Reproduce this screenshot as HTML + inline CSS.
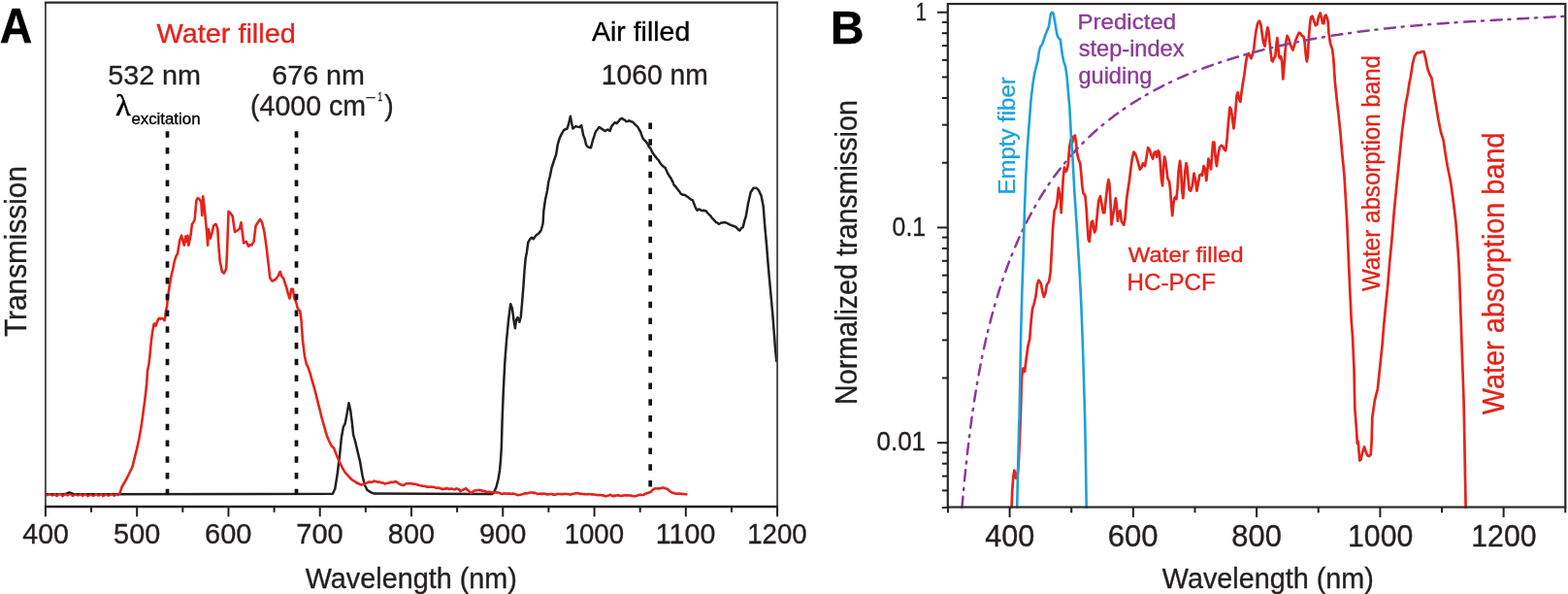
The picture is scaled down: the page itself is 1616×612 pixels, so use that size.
<!DOCTYPE html>
<html><head><meta charset="utf-8"><title>Transmission spectra</title>
<style>html,body{margin:0;padding:0;background:#fff;overflow:hidden;width:1616px;height:612px;}svg{display:block;}text{font-family:"Liberation Sans", Arial, Helvetica, sans-serif;}</style>
</head><body>
<svg width="1616" height="612" viewBox="0 0 1616 612">
<rect width="1616" height="612" fill="#fff"/>
<polyline points="47.5,509.2 66,509.2 69,508.4 71.3,507.3 73.5,508.2 76,509.2 342.9,508.8 345.3,503.5 347.8,487.6 350.2,468 351.9,450.8 353.9,439.8 355.8,436.1 357.6,426.3 359.5,415.3 361.2,422.7 362.9,436.1 364.2,448.4 366.1,454.5 368.6,465.5 371,475.3 373.5,490 375.9,499.8 378.4,504.7 382,507.2 385.7,508.6 507,509.1 509,507.6 511.5,501.7 513.5,493.8 515,484.9 515.9,475 516.8,461.8 517.6,432.4 518.8,402.9 520.3,373.5 522.1,350 524.1,329.4 526.2,313.2 527.9,317.6 529.4,329.4 530.9,338.2 532.1,329.4 533.5,327.1 535.3,331.8 536.8,326.5 538.1,311.6 539.4,295.3 540.5,279 541.7,265.9 543,259.4 544.3,249.6 546.2,246.3 547.9,244.7 549.8,246.3 551.9,243.1 555.2,240.6 557.7,237.3 559.6,230 560.3,217.2 562,205.8 564.1,195.9 565.2,187.8 566.9,181.2 568.5,173.1 570.6,166.5 573.2,159 574.7,149.2 576.7,142.4 578.6,138.4 581.1,134 584.5,132.5 586,128 587.9,119.8 589,126 590.4,132.5 593.3,130.1 597.3,131.1 599.2,129.1 601.2,139.4 602.65,143.02 604.1,149.2 605.33,150.87 606.55,151.53 607.77,152.11 609,152.2 610,148.26 611,144.3 612.45,140.15 613.9,135.5 615.07,134.26 616.23,132.64 617.4,131.1 618.53,131.47 619.67,132.47 620.8,133 622.25,134.2 623.7,135 624.7,134.32 625.7,133.82 626.7,133.5 628.6,135 629.6,132.08 630.6,129.6 632.05,128.07 633.5,126.2 634.5,126.71 635.5,127.2 636.95,125.66 638.4,123.7 639.65,122.49 640.9,121.8 642,122.68 643.1,123.29 644.2,123.9 645.3,125.2 646.75,125.07 648.2,124.2 649.2,124.73 650.2,125.07 651.2,125.48 652.2,125.7 653.5,127.2 654.8,128.53 656.1,129.6 657.4,131.01 658.7,133.47 660,135.5 661.3,139.21 662.6,142.5 663.9,144.3 665.12,145.18 666.35,146.83 667.57,148.53 668.8,151.2 670.02,152.3 671.25,154.69 672.48,157.25 673.7,159 674.93,160.65 676.15,162.13 677.38,163.85 678.6,164.9 679.9,167.23 681.2,168.99 682.5,170.5 683.57,171.42 684.63,172.23 685.7,172.9 686.95,175.87 688.2,178.7 689.3,180.39 690.4,182.27 691.5,183.6 692.57,185.93 693.63,187.92 694.7,190.9 695.95,191.85 697.2,193.4 698.27,194.8 699.33,196.38 700.4,197.5 701.5,199.52 702.6,200.08 703.7,200.7 704.73,200.67 705.75,201.03 706.77,201.38 707.8,202.4 708.9,202.84 710,203.88 711.1,204.8 712.4,205.78 713.7,205.9 714.95,209.14 716.2,212.4 717.45,215.11 718.7,216.7 720.15,215.54 721.6,216 722.8,216.85 724,217.06 725.2,216.7 726.4,217.24 727.6,217.32 728.8,218.8 730,220.02 731.2,221.51 732.4,222.4 733.6,224.34 734.8,225.52 736,226.8 737.2,228.13 738.4,229.33 739.6,229.6 740.8,230.82 742,230.28 743.2,229.6 744.4,229.51 745.6,229.27 746.8,229.3 748,229.28 749.2,229.85 750.4,230.4 751.6,231.25 752.8,231.63 754,232.2 755.15,232.55 756.3,233 757.45,233.47 758.6,234 759.8,235.3 761,236.69 762.2,237.6 763.4,236.03 764.6,234.55 765.8,234 767.25,227.63 768.7,223.2 771.2,208.8 773.7,198 776.6,193.7 779.5,193.7 782,196.2 784.5,201.6 786.7,212.4 788,230 790.1,252.9 791.9,275.8 794,298.6 796.1,321.5 797.9,344.4 799.3,362.7 800.3,372" fill="none" stroke="#231f20" stroke-width="2.5" stroke-linejoin="round" stroke-linecap="round" />
<polyline points="47.5,510.1 48.8,510.4 50.1,509.4 51.4,509.1 52.7,510 54,510.7 55.3,510.1 56.6,508.8 57.9,511 59.2,510.9 60.5,508.9 61.8,509.1 63.1,509.5 64.4,511.4 65.7,510.4 67,509 68.3,509.8 69.6,510.7 70.9,509.8 72.2,509.2 73.5,509.8 74.8,511.2 76.1,510.5 77.4,509.5 78.7,510 80,510.6 81.3,510.6 82.6,509.3 83.9,509.6 85.2,511.2 86.5,509.8 87.8,509.2 89.1,509.8 90.4,511.5 91.7,510.7 93,509.7 94.3,510.3 95.6,510.9 96.9,510.9 98.2,509.6 99.5,508.9 100.8,510.8 102.1,510.7 103.4,509.8 104.7,509.1 106,511.3 107.3,510.8 108.6,509.5 109.9,509.6 111.2,510.7 112.5,510.8 113.8,509.8 115.1,509.1 116.4,510 117.7,511.1 119,509.4 120.3,509.4 121.6,510.3 123.3,508.6" fill="none" stroke="#e3241b" stroke-width="2.0" stroke-linejoin="round" stroke-linecap="round" />
<polyline points="123.3,508.6 125.7,501.5 129.2,495.6 132.8,488.5 136.3,481.4 138.7,471.9 141.1,462.4 143.4,451.8 145.3,441.1 147,429.2 148.6,417.4 150.1,405.5 151.2,394.9 152,382.2 153.5,374.4 154.6,365.1 155.9,351.2 157.1,341.9 158.6,334.1 159.7,333.3 160.5,335.7 161.7,332.6 162.8,329.5 163.9,327.9 165.2,328.7 166.7,327.9 168.3,328.7 169.5,330.2 170.3,326.4 171,320.2 172.1,315.5 172.7,309 174.5,295.8 176.3,285 178.1,277.8 179.9,268.8 181.7,263.4 183,261.6 184.4,252.6 185.3,247.2 187.1,242.7 188.4,248.1 189.8,252.6 191.2,243.6 192.5,249 193.4,242.7 194.3,252.6 195.2,249 196.6,241.8 197.9,231 199.2,229.2 200.6,226.5 201.5,216.6 202.4,206.7 203.8,204 206,205.8 207.4,208.5 208.2,222 209.2,202.2 210.5,213 211.8,225.6 213.2,240 214.1,252.6 215,236.4 216.8,245.6 218.4,240.7 220.1,232.5 222.4,230.8 224.3,235.8 225.5,255.4 226.6,268.4 228.9,279.9 230.9,281.5 233.2,276.6 234.2,255.4 235.5,217.8 237.4,219.4 239.7,222.7 242,239 244.6,237.4 246.9,235.8 248.5,229.2 249.8,239 251.1,250.5 253.8,248.8 256,253.7 257.7,252.1 259.3,252.7 261.6,248.8 263.6,232.5 265.8,229.2 268.1,225.9 270.1,229.2 272.4,239 274.7,255.4 276.6,271.7 278.3,286.4 280.6,289.7 283.8,288 286.4,284.8 288.7,279.9 290.4,284.8 292,286.4 293.6,291.3 295.3,296.2 296.9,302.7 298.5,307.6 300.2,297.8 301.8,297.8 303.4,307.6 305.1,310.9 306.7,317.5 309.3,320.7 310.6,330.5 311.9,350.1 313.9,366.5 315.8,375.3 317.1,377.3 319.6,384.7 322,393.3 324.5,401.8 326.9,411.6 329.4,421.4 331.8,431.2 334.3,439.8 336.7,448.4 339.2,454.5 341.6,459.4 344.1,461.8 346.5,468 349,474.1 351.4,479 353.9,483.9 356.3,487.6 357.53,488.85 358.77,490.21 360,491.2 361.23,492.98 362.47,494.02 363.7,494.9 364.93,495.67 366.17,496.35 367.4,497.4 368.6,497.6 369.8,498.32 371,499.1 372.23,499.38 373.47,499.43 374.7,498.6 375.93,498.62 377.17,497.89 378.4,497.4 379.6,496.62 380.8,496.51 382,496.9 383.23,496.43 384.47,496.54 385.7,495.4 386.93,496.13 388.17,496.22 389.4,496.9 390.63,496.4 391.87,496.96 393.1,497.4 394.3,497.41 395.5,497.65 396.7,498.6 397.93,498.02 399.17,497.79 400.4,497.8 401.63,497.2 402.87,496.85 404.1,496.9 405.33,496.85 406.57,496.53 407.8,496.1 409,496.82 410.2,497.53 411.4,498.6 412.63,499.06 413.87,499.64 415.1,499.8 416.23,499.84 417.37,499.03 418.5,498.23 419.63,498.19 420.77,498.22 421.9,498.2 423.03,498 424.16,498.14 425.29,498.5 426.41,498.85 427.54,498.8 428.67,498.74 429.8,499.5 430.9,499.58 432,499.99 433.1,500.23 434.2,500.46 435.3,500.65 436.4,500.83 437.5,500.96 438.6,501.05 439.7,501.7 440.8,501.46 441.9,501.71 443,501.7 444.1,501.67 445.2,501.68 446.3,501.73 447.4,501.86 448.5,502.31 449.6,502.7 450.7,502.69 451.8,502.52 452.9,502.7 454,503.29 455.1,503.83 456.2,503.85 457.3,503.86 458.4,503.53 459.5,503.7 460.6,502.93 461.7,503.47 462.8,504 463.9,503.77 465,503.53 466.1,503.64 467.2,503.93 468.3,504.16 469.4,504.2 470.4,503.2 471.4,503.63 472.4,503.97 473.4,504.45 474.4,506.1 475.58,505.33 476.76,504.82 477.94,504.23 479.12,503.82 480.3,503.2 481.52,504.69 482.75,505.41 483.98,506.42 485.2,508.1 486.2,507.84 487.2,506.87 488.2,505.89 489.2,505.6 490.35,505.2 491.5,505.26 492.65,505.06 493.8,504.87 494.95,505.18 496.1,505.1 497.18,505.89 498.25,505.88 499.33,505.93 500.4,506.48 501.48,507.03 502.55,507.06 503.62,506.85 504.7,506.77 505.77,506.97 506.85,507.18 507.93,507.36 509,507.1 510.1,507.55 511.2,507.41 512.3,507.31 513.4,507.59 514.5,507.87 515.6,508.28 516.7,508.75 517.8,508.97 518.9,508.6 520,508.4 521.1,508.53 522.2,508.65 523.3,508.67 524.4,508.62 525.5,508.63 526.6,508.76 527.7,508.89 528.8,508.6 529.8,508.83 530.8,509.03 531.8,509.37 532.8,509.72 533.8,510.1 534.9,509.95 536,509.77 537.1,509.51 538.2,509.26 539.3,508.84 540.4,508.41 541.5,508.35 542.6,508.5 543.7,508.1 544.85,507.94 546,507.45 547.15,507.47 548.3,507.49 549.45,507.49 550.6,508.1 551.73,507.83 552.86,508.46 553.99,508.96 555.11,508.82 556.24,508.67 557.37,508.66 558.5,509.1 559.55,508.64 560.59,508.65 561.64,508.68 562.68,509.04 563.73,509.4 564.77,509.42 565.82,509.17 566.86,508.93 567.91,508.94 568.95,508.94 570,509.6 571,509.49 572,509.81 573,509.41 574,509.01 575,508.82 576,508.94 577,509.06 578,509.09 579,509.1 580,509.1 581,508.99 582,508.9 583,508.91 584,508.98 585,509.05 586,509.31 587,509.57 588,509.59 589,509.22 590,508.86 591,508.67 592,508.52 593,508.38 594,508.27 595,508.15 596,508.29 597,508.6 598,508.91 599,508.87 600,509 601,508.94 602,509.12 603,509.3 604,509.28 605,509.21 606,509.16 607,509.22 608,509.28 609,509.32 610,509.34 611,509.35 612,509.46 613,509.56 614,509.7 615,509.9 616,510.09 617,510.1 618,510.06 619,510.06 620,510.3 621.01,510.34 622.02,510.61 623.02,510.98 624.03,511.33 625.04,511.08 626.05,510.83 627.05,510.52 628.06,510.15 629.07,509.77 630.08,510.3 631.08,510.97 632.09,511.37 633.1,510.6 634.1,510.85 635.1,510.6 636.1,510.35 637.1,510.16 638.1,510.52 639.1,510.88 640.1,510.97 641.1,510.8 642.1,510.63 643.1,510.5 644.1,510.38 645.1,510.29 646.1,510.6 647.2,510.38 648.3,510.42 649.4,510.44 650.5,510.6 651.6,510.92 652.7,511.2 653.78,511.24 654.87,511.24 655.95,510.88 657.03,510.38 658.12,510 659.2,509.9 660.3,509.88 661.4,509.96 662.5,510.05 663.6,509.61 664.7,508.74 665.8,508.6 666.84,507.96 667.88,507.88 668.92,507.51 669.96,507.02 671,506.7 672.3,505.03 673.6,504.1 674.64,503.44 675.68,503.31 676.72,503.31 677.76,503.37 678.8,503.4 680.1,503.22 681.4,502.98 682.7,502.5 683.76,502.5 684.82,502.87 685.88,503.25 686.94,503.64 688,503.8 689.07,505.12 690.13,506 691.2,506.7 692.3,507.36 693.4,507.91 694.5,508 695.54,508.45 696.58,508.49 697.62,508.59 698.66,508.72 699.7,508.6 707.3,509.3" fill="none" stroke="#e3241b" stroke-width="2.6" stroke-linejoin="round" stroke-linecap="round" />
<line x1="172.5" y1="135.2" x2="172.5" y2="510" stroke="#141213" stroke-width="3.7" stroke-dasharray="6.6 10.15"/>
<line x1="305.5" y1="135.2" x2="305.5" y2="510" stroke="#141213" stroke-width="3.7" stroke-dasharray="6.6 10.15"/>
<line x1="670.2" y1="126.4" x2="670.2" y2="501.5" stroke="#141213" stroke-width="3.7" stroke-dasharray="6.6 10.15"/>
<line x1="46.9" y1="2.6" x2="46.9" y2="522" stroke="#4a4545" stroke-width="1.9" />
<line x1="801.1" y1="2.6" x2="801.1" y2="522" stroke="#4a4545" stroke-width="1.9" />
<line x1="45.95" y1="2.6" x2="802.05" y2="2.6" stroke="#2e2a29" stroke-width="2.2" />
<line x1="45.95" y1="522" x2="802.05" y2="522" stroke="#242021" stroke-width="2.3" />
<line x1="46.9" y1="522" x2="46.9" y2="532.3" stroke="#231f20" stroke-width="2.0" />
<line x1="94.04" y1="522" x2="94.04" y2="527.8" stroke="#231f20" stroke-width="2.0" />
<line x1="141.17" y1="522" x2="141.17" y2="532.3" stroke="#231f20" stroke-width="2.0" />
<line x1="188.31" y1="522" x2="188.31" y2="527.8" stroke="#231f20" stroke-width="2.0" />
<line x1="235.45" y1="522" x2="235.45" y2="532.3" stroke="#231f20" stroke-width="2.0" />
<line x1="282.59" y1="522" x2="282.59" y2="527.8" stroke="#231f20" stroke-width="2.0" />
<line x1="329.72" y1="522" x2="329.72" y2="532.3" stroke="#231f20" stroke-width="2.0" />
<line x1="376.86" y1="522" x2="376.86" y2="527.8" stroke="#231f20" stroke-width="2.0" />
<line x1="424" y1="522" x2="424" y2="532.3" stroke="#231f20" stroke-width="2.0" />
<line x1="471.14" y1="522" x2="471.14" y2="527.8" stroke="#231f20" stroke-width="2.0" />
<line x1="518.27" y1="522" x2="518.27" y2="532.3" stroke="#231f20" stroke-width="2.0" />
<line x1="565.41" y1="522" x2="565.41" y2="527.8" stroke="#231f20" stroke-width="2.0" />
<line x1="612.55" y1="522" x2="612.55" y2="532.3" stroke="#231f20" stroke-width="2.0" />
<line x1="659.69" y1="522" x2="659.69" y2="527.8" stroke="#231f20" stroke-width="2.0" />
<line x1="706.82" y1="522" x2="706.82" y2="532.3" stroke="#231f20" stroke-width="2.0" />
<line x1="753.96" y1="522" x2="753.96" y2="527.8" stroke="#231f20" stroke-width="2.0" />
<line x1="801.1" y1="522" x2="801.1" y2="532.3" stroke="#231f20" stroke-width="2.0" />
<text x="23.36" y="560.4" font-size="29.82" textLength="47.54" lengthAdjust="spacingAndGlyphs" fill="#231f20" stroke="#231f20" stroke-width="0.35" font-weight="normal" >400</text>
<text x="117.12" y="560.4" font-size="29.82" textLength="48.06" lengthAdjust="spacingAndGlyphs" fill="#231f20" stroke="#231f20" stroke-width="0.35" font-weight="normal" >500</text>
<text x="211.1" y="560.4" font-size="29.82" textLength="48.37" lengthAdjust="spacingAndGlyphs" fill="#231f20" stroke="#231f20" stroke-width="0.35" font-weight="normal" >600</text>
<text x="305.3" y="560.4" font-size="29.82" textLength="48.44" lengthAdjust="spacingAndGlyphs" fill="#231f20" stroke="#231f20" stroke-width="0.35" font-weight="normal" >700</text>
<text x="399.87" y="560.4" font-size="29.82" textLength="48.14" lengthAdjust="spacingAndGlyphs" fill="#231f20" stroke="#231f20" stroke-width="0.35" font-weight="normal" >800</text>
<text x="494" y="560.4" font-size="29.82" textLength="48.29" lengthAdjust="spacingAndGlyphs" fill="#231f20" stroke="#231f20" stroke-width="0.35" font-weight="normal" >900</text>
<text x="581.63" y="560.4" font-size="29.82" textLength="61.47" lengthAdjust="spacingAndGlyphs" fill="#231f20" stroke="#231f20" stroke-width="0.35" font-weight="normal" >1000</text>
<text x="675.83" y="560.4" font-size="29.82" textLength="61.53" lengthAdjust="spacingAndGlyphs" fill="#231f20" stroke="#231f20" stroke-width="0.35" font-weight="normal" >1100</text>
<text x="770.18" y="560.4" font-size="29.82" textLength="61.47" lengthAdjust="spacingAndGlyphs" fill="#231f20" stroke="#231f20" stroke-width="0.35" font-weight="normal" >1200</text>
<text x="314.76" y="605.6" font-size="30.21" textLength="218.02" lengthAdjust="spacingAndGlyphs" fill="#231f20" stroke="#231f20" stroke-width="0.35" font-weight="normal" >Wavelength (nm)</text>
<text transform="translate(26.8,346.97) rotate(-90)" x="0" y="0" font-size="31.06" textLength="175.95" lengthAdjust="spacingAndGlyphs" fill="#231f20" stroke="#231f20" stroke-width="0.35">Transmission</text>
<text x="-0.26" y="44.4" font-size="49.08" textLength="33.52" lengthAdjust="spacingAndGlyphs" fill="#000" stroke="#000" stroke-width="0.35" font-weight="bold" >A</text>
<text x="161.46" y="44" font-size="27.09" textLength="143.31" lengthAdjust="spacingAndGlyphs" fill="#e3241b" stroke="#e3241b" stroke-width="0.35" font-weight="normal" >Water filled</text>
<text x="610.03" y="41.6" font-size="28.09" textLength="101.2" lengthAdjust="spacingAndGlyphs" fill="#000" stroke="#000" stroke-width="0.35" font-weight="normal" >Air filled</text>
<text x="111.15" y="86.9" font-size="28.53" textLength="95.94" lengthAdjust="spacingAndGlyphs" fill="#231f20" stroke="#231f20" stroke-width="0.35" font-weight="normal" >532 nm</text>
<text x="280.27" y="86.9" font-size="28.53" textLength="95.72" lengthAdjust="spacingAndGlyphs" fill="#231f20" stroke="#231f20" stroke-width="0.35" font-weight="normal" >676 nm</text>
<text x="619.78" y="86.8" font-size="28.96" textLength="109.9" lengthAdjust="spacingAndGlyphs" fill="#231f20" stroke="#231f20" stroke-width="0.35" font-weight="normal" >1060 nm</text>
<text x="119.11" y="118.8" font-size="30.64" textLength="15.75" lengthAdjust="spacingAndGlyphs" style="font-family:'Liberation Serif', serif" fill="#000" stroke="#000" stroke-width="0.5">λ</text>
<text x="135.38" y="128.4" font-size="16.97" textLength="71.15" lengthAdjust="spacingAndGlyphs" fill="#000" stroke="#000" stroke-width="0.35" font-weight="normal" >excitation</text>
<text x="258.12" y="119.2" font-size="30.07" textLength="118.97" lengthAdjust="spacingAndGlyphs" fill="#231f20" stroke="#231f20" stroke-width="0.35" font-weight="normal" >(4000 cm</text>
<text x="376.78" y="104.5" font-size="13" textLength="10.72" lengthAdjust="spacingAndGlyphs" fill="#231f20" stroke="#231f20" stroke-width="0.35" font-weight="normal">−</text>
<text x="389.49" y="103.9" font-size="12.95" textLength="4.5" lengthAdjust="spacingAndGlyphs" fill="#231f20" stroke="#231f20" stroke-width="0.35" font-weight="normal" >1</text>
<text x="396.29" y="119.2" font-size="30.07" textLength="9.51" lengthAdjust="spacingAndGlyphs" fill="#231f20" stroke="#231f20" stroke-width="0.35" font-weight="normal" >)</text>
<polyline points="1042.6,522.5 1043.2,505.7 1044.3,491.5 1045.3,484.6 1046.3,488 1047.3,493 1048.4,491 1049.6,480 1050.8,455 1051.8,430 1052.5,405 1052.9,392 1053.2,387.5 1054.3,379.5 1056.1,382.9 1057.7,369.2 1059.6,355.6 1061.2,349.3 1062.7,330.7 1064,318.2 1065.5,313.6 1067.4,305.8 1068.9,293.3 1070.5,288.7 1072.7,291.8 1074.2,299.6 1075.8,305.8 1077.3,302.7 1078.9,293.3 1081.1,290.2 1082.6,280.9 1084.2,252.9 1085,236.2 1086.7,217.1 1088.2,213.9 1089.4,208.6 1090.9,193.7 1092,200.1 1093,206.4 1093.7,219.2 1094.7,200.1 1095.8,183.1 1096.9,172.5 1098.4,176.7 1099.8,174.6 1100.9,168.2 1102.2,151.2 1103.7,143.8 1105.2,147 1106.4,140.6 1107.9,139.6 1109,147 1110,157.6 1111.5,164 1113.2,168.2 1114.3,178.8 1115.3,191.6 1116.4,199 1117.5,200.1 1118.5,202.2 1119.6,214.9 1120.7,231.9 1121.7,246.8 1122.8,248.9 1123.8,238.3 1124.9,228.7 1126,227.7 1127,234 1128.1,239.4 1129.2,237.2 1130.6,223.4 1132.3,206.4 1134,202.2 1135.5,210.7 1137,219.2 1138.3,219.2 1139.8,204.3 1141.3,191.6 1142.5,185.2 1143.4,189.5 1144.4,206.4 1145.5,231.5 1146.8,223.4 1148.3,214.9 1149.8,204.3 1150.8,210.7 1151.9,227.7 1153.1,219.2 1154.4,217.1 1155.7,227.7 1157,229.8 1158.2,231.9 1159.5,225.5 1161,206.4 1162.1,198 1163.8,187.3 1165.3,174.6 1166.7,164 1168.4,156.5 1170.1,158.7 1171.6,162.9 1173.1,168.2 1174.8,174.6 1176.5,172.5 1178,168.2 1180,171.1 1181.7,161.6 1183.2,152 1184.7,154.2 1186.4,159.5 1188.1,163.7 1189.6,157.3 1191,156.3 1192.3,161.6 1193.8,155.2 1194.9,157.3 1195.9,170.1 1197,184.9 1198.1,191.3 1199.1,172.2 1200.2,161.6 1201.2,165.8 1202.3,174.3 1203.4,183.9 1205.1,187.1 1206.1,195.6 1207.2,210.4 1208.2,222.1 1209.3,210.4 1210.4,204.1 1211.4,203 1212.5,205.1 1213.6,193.4 1214.6,176.4 1216.1,165.8 1217.2,176.4 1218.2,195.6 1219.3,204.1 1220.3,191.3 1221.4,176.4 1222.5,168 1223.5,172.2 1224.6,184.9 1225.7,195.6 1227.1,196.6 1228.8,191.3 1230.5,178.6 1232,184.9 1233.5,196.6 1234.8,189.2 1236.3,180.7 1237.8,179.6 1239,180.7 1240.5,171.1 1242,174.3 1243.3,186 1244.3,176.4 1245.4,163.7 1246.9,168 1248,174.3 1249,161.6 1250.1,146.7 1251.4,146.7 1252.6,161.6 1253.9,171.1 1255.4,159.5 1256.9,152 1258.6,149.9 1260.3,151 1261.8,154.2 1263.2,155.2 1264.5,144.6 1266,125.5 1267.5,110.6 1268.8,112.7 1270.3,124 1271.5,132.4 1273.1,117.5 1274.6,98.4 1275.6,95.3 1277.3,102.7 1278.4,104.8 1279.4,96.3 1280.9,85.7 1282.4,77.2 1283.7,66.6 1285.2,58.1 1286.7,54.9 1287.9,57 1289.4,60.2 1290.9,56 1292.2,50.7 1293.2,41.1 1294.7,30.5 1296.2,24.1 1297.9,21.6 1299.4,25.2 1300.7,34.7 1302.2,44.3 1303.6,47.5 1304.9,36.9 1306.4,28.4 1307.5,32.6 1308.5,43.2 1309.6,53.8 1310.7,62.3 1311.7,63.4 1312.8,60.2 1314.3,58.1 1315.5,45.3 1316.4,39 1317.2,47.5 1318.1,58.1 1319.2,60.2 1320.2,58.1 1321.3,64.5 1322.3,81.4 1323.4,68.7 1324.5,53.8 1325.5,42.2 1326.6,36.9 1328.1,40 1329.8,45.3 1331.3,49.6 1332.5,51.7 1334,46.4 1335.5,41.1 1337.2,36.9 1338.9,33.7 1340.4,34.7 1341.9,36.9 1343.6,37.9 1344.6,43.2 1345.7,56 1346.8,63.4 1347.8,58.1 1348.9,39 1349.9,26.2 1351,17.7 1352.5,16.7 1354.2,22 1355.9,26.2 1357.4,25.2 1358.9,17.7 1360.6,13.5 1361.6,16.7 1363.1,24.1 1364.4,24.1 1365.2,16.7 1366.5,15.6 1367.8,18.8 1368.6,22 1369.4,33.9 1371.1,45 1373.1,50.6 1374.4,61.7 1375.8,83.9 1377.8,103.3 1379.4,117.2 1381.4,136.7 1383.3,158.9 1385.4,180 1388.3,229.1 1390.3,278.2 1392.7,330.2 1393.9,345.2 1395.5,380 1396.3,420.8 1398,442 1398.8,456.8 1399.8,455 1400.5,465 1401.3,474.5 1402.5,473.5 1404.2,466 1406.1,460.5 1407.6,465.5 1409.5,469.5 1411,470 1412.8,468 1413.6,455 1414.3,430 1416.8,412.7 1419.9,400.2 1422.4,376.4 1424.6,355.1 1426.3,333.8 1428.4,312.6 1430.5,291.3 1432.2,270 1434.2,250 1436.7,218.9 1439.4,191.1 1442.2,163.3 1445,135.6 1448.6,107.8 1450.8,96.7 1452.6,85 1453.8,79.2 1455.8,66.1 1457.7,58.3 1460.3,54.4 1462.9,54.4 1465.5,53.1 1467.4,53.1 1469.4,60.9 1471.5,71.4 1473.4,76.6 1475.5,80.5 1477.3,92.3 1479.9,108 1482.5,123.7 1485.1,136.7 1487.7,144.6 1489.1,155 1491.7,170.7 1494.3,183.8 1495.4,190 1496.3,196.3 1498.5,212.7 1500.4,229 1501.7,245.4 1502.9,261.7 1503.9,280 1505.5,325.7 1507.1,371.3 1508.6,415 1509.6,468.8 1510.6,522.7" fill="none" stroke="#e3241b" stroke-width="2.7" stroke-linejoin="round" stroke-linecap="round" />
<polyline points="991.47,522.68 991.59,521.36 991.7,520.04 991.82,518.72 991.94,517.4 992.06,516.08 992.18,514.76 992.3,513.43 992.42,512.11 992.54,510.79 992.66,509.47 992.79,508.15 992.91,506.83 993.03,505.51 993.16,504.19 993.28,502.87 993.41,501.55 993.54,500.23 993.66,498.9 993.79,497.58 993.92,496.26 994.05,494.94 994.18,493.62 994.31,492.3 994.44,490.98 994.58,489.65 994.71,488.33 994.84,487.01 994.98,485.69 995.11,484.37 995.25,483.05 995.39,481.72 995.53,480.4 995.67,479.08 995.81,477.76 995.95,476.44 996.09,475.12 996.23,473.79 996.38,472.47 996.52,471.15 996.67,469.83 996.81,468.51 996.96,467.19 997.11,465.87 997.26,464.55 997.41,463.23 997.57,461.9 997.72,460.58 997.87,459.26 998.03,457.94 998.19,456.62 998.34,455.3 998.5,453.98 998.66,452.66 998.82,451.34 998.99,450.02 999.15,448.7 999.32,447.38 999.48,446.06 999.65,444.74 999.82,443.43 999.99,442.11 1000.16,440.79 1000.33,439.47 1000.51,438.15 1000.68,436.83 1000.86,435.52 1001.04,434.2 1001.22,432.88 1001.4,431.56 1001.58,430.25 1001.77,428.93 1001.95,427.61 1002.14,426.3 1002.33,424.98 1002.52,423.66 1002.71,422.35 1002.9,421.03 1003.09,419.72 1003.29,418.4 1003.49,417.09 1003.69,415.77 1003.89,414.46 1004.09,413.14 1004.29,411.83 1004.5,410.52 1004.71,409.2 1004.91,407.89 1005.12,406.58 1005.34,405.27 1005.55,403.95 1005.77,402.64 1005.98,401.33 1006.2,400.02 1006.42,398.71 1006.65,397.4 1006.87,396.09 1007.1,394.78 1007.32,393.47 1007.55,392.16 1007.78,390.85 1008.02,389.55 1008.25,388.24 1008.49,386.93 1008.73,385.62 1008.97,384.32 1009.21,383.01 1009.46,381.71 1009.7,380.4 1009.95,379.1 1010.2,377.79 1010.46,376.49 1010.71,375.18 1010.97,373.88 1011.23,372.58 1011.49,371.28 1011.75,369.97 1012.01,368.67 1012.28,367.37 1012.55,366.07 1012.82,364.77 1013.1,363.47 1013.37,362.17 1013.65,360.87 1013.93,359.58 1014.21,358.28 1014.49,356.98 1014.78,355.69 1015.07,354.39 1015.36,353.09 1015.65,351.8 1015.95,350.5 1016.25,349.21 1016.55,347.92 1016.85,346.62 1017.15,345.33 1017.46,344.04 1017.77,342.75 1018.08,341.46 1018.39,340.17 1018.71,338.88 1019.03,337.59 1019.35,336.3 1019.67,335.01 1020,333.73 1020.33,332.44 1020.66,331.15 1020.99,329.87 1021.33,328.58 1021.67,327.3 1022.01,326.02 1022.35,324.73 1022.7,323.45 1023.05,322.17 1023.4,320.89 1023.75,319.61 1024.11,318.33 1024.47,317.05 1024.83,315.77 1025.2,314.49 1025.56,313.22 1025.93,311.94 1026.31,310.67 1026.68,309.39 1027.06,308.12 1027.44,306.84 1027.82,305.57 1028.21,304.3 1028.6,303.03 1028.99,301.76 1029.39,300.49 1029.79,299.22 1030.19,297.96 1030.59,296.69 1031,295.43 1031.41,294.16 1031.82,292.9 1032.24,291.64 1032.66,290.38 1033.08,289.12 1033.51,287.86 1033.93,286.6 1034.37,285.34 1034.8,284.09 1035.24,282.83 1035.68,281.58 1036.12,280.33 1036.57,279.08 1037.02,277.83 1037.48,276.58 1037.93,275.33 1038.39,274.09 1038.86,272.84 1039.33,271.6 1039.8,270.36 1040.27,269.12 1040.75,267.88 1041.23,266.64 1041.72,265.4 1042.2,264.17 1042.69,262.94 1043.19,261.7 1043.69,260.47 1044.19,259.24 1044.7,258.02 1045.21,256.79 1045.72,255.56 1046.24,254.34 1046.76,253.12 1047.28,251.9 1047.81,250.68 1048.34,249.46 1048.87,248.25 1049.41,247.03 1049.96,245.82 1050.5,244.61 1051.05,243.4 1051.61,242.2 1052.16,240.99 1052.73,239.79 1053.29,238.59 1053.86,237.39 1054.44,236.19 1055.01,234.99 1055.59,233.8 1056.18,232.6 1056.77,231.41 1057.36,230.22 1057.96,229.04 1058.56,227.85 1059.17,226.67 1059.78,225.49 1060.39,224.31 1061.01,223.13 1061.63,221.96 1062.26,220.78 1062.89,219.61 1063.53,218.44 1064.16,217.28 1064.81,216.11 1065.46,214.95 1066.11,213.79 1066.76,212.63 1067.42,211.48 1068.09,210.33 1068.76,209.18 1069.43,208.03 1070.11,206.89 1070.79,205.74 1071.48,204.6 1072.17,203.47 1072.86,202.33 1073.56,201.2 1074.26,200.07 1074.97,198.95 1075.69,197.83 1076.4,196.71 1077.12,195.59 1077.85,194.48 1078.58,193.36 1079.32,192.26 1080.05,191.15 1080.8,190.05 1081.55,188.95 1082.3,187.86 1083.06,186.76 1083.82,185.68 1084.59,184.59 1085.36,183.51 1086.13,182.43 1086.91,181.35 1087.7,180.28 1088.49,179.22 1089.28,178.15 1090.08,177.09 1090.89,176.03 1091.69,174.98 1092.51,173.93 1093.32,172.88 1094.15,171.84 1094.97,170.8 1095.81,169.77 1096.64,168.74 1097.48,167.71 1098.33,166.69 1099.18,165.67 1100.04,164.65 1100.9,163.64 1101.76,162.63 1102.63,161.63 1103.5,160.63 1104.38,159.63 1105.27,158.64 1106.15,157.66 1107.05,156.67 1107.94,155.7 1108.84,154.72 1109.75,153.75 1110.66,152.78 1111.57,151.82 1112.49,150.86 1113.42,149.91 1114.34,148.96 1115.28,148.02 1116.21,147.08 1117.15,146.14 1118.1,145.21 1119.05,144.28 1120,143.36 1120.96,142.44 1121.92,141.52 1122.89,140.61 1123.86,139.71 1124.83,138.8 1125.81,137.91 1126.79,137.02 1127.78,136.13 1128.77,135.24 1129.77,134.37 1130.76,133.49 1131.77,132.62 1132.77,131.76 1133.79,130.9 1134.8,130.04 1135.82,129.19 1136.84,128.34 1137.87,127.5 1138.9,126.66 1139.93,125.83 1140.97,125 1142.01,124.18 1143.06,123.36 1144.11,122.55 1145.16,121.74 1146.22,120.94 1147.28,120.14 1148.34,119.34 1149.41,118.55 1150.48,117.77 1151.56,116.99 1152.63,116.21 1153.72,115.44 1154.8,114.67 1155.89,113.91 1156.98,113.15 1158.07,112.39 1159.17,111.64 1160.27,110.9 1161.37,110.16 1162.48,109.42 1163.59,108.69 1164.7,107.96 1165.82,107.24 1166.93,106.52 1168.06,105.8 1169.18,105.09 1170.31,104.39 1171.43,103.69 1172.57,102.99 1173.7,102.29 1174.84,101.6 1175.98,100.92 1177.12,100.24 1178.26,99.56 1179.41,98.89 1180.56,98.22 1181.71,97.56 1182.86,96.89 1184.02,96.24 1185.18,95.59 1186.34,94.94 1187.5,94.29 1188.67,93.65 1189.83,93.02 1191,92.39 1192.18,91.76 1193.35,91.14 1194.53,90.52 1195.7,89.9 1196.89,89.29 1198.07,88.68 1199.25,88.08 1200.44,87.48 1201.63,86.89 1202.82,86.3 1204.02,85.72 1205.21,85.14 1206.41,84.56 1207.61,83.99 1208.81,83.42 1210.02,82.86 1211.23,82.3 1212.44,81.75 1213.65,81.2 1214.86,80.65 1216.08,80.11 1217.29,79.58 1218.51,79.05 1219.73,78.52 1220.96,77.99 1222.18,77.47 1223.41,76.96 1224.64,76.44 1225.87,75.94 1227.1,75.43 1228.33,74.93 1229.57,74.44 1230.81,73.94 1232.05,73.45 1233.29,72.97 1234.53,72.49 1235.77,72.01 1237.01,71.53 1238.26,71.06 1239.51,70.6 1240.75,70.13 1242,69.67 1243.25,69.21 1244.51,68.76 1245.76,68.31 1247.01,67.86 1248.27,67.42 1249.53,66.98 1250.78,66.54 1252.04,66.11 1253.3,65.68 1254.56,65.25 1255.82,64.82 1257.08,64.4 1258.35,63.98 1259.61,63.56 1260.87,63.15 1262.14,62.74 1263.4,62.33 1264.67,61.93 1265.93,61.52 1267.2,61.13 1268.47,60.73 1269.74,60.33 1271.01,59.94 1272.28,59.55 1273.55,59.17 1274.82,58.79 1276.09,58.41 1277.37,58.03 1278.64,57.65 1279.91,57.28 1281.19,56.91 1282.46,56.54 1283.74,56.18 1285.02,55.82 1286.29,55.46 1287.57,55.1 1288.85,54.75 1290.13,54.4 1291.41,54.05 1292.69,53.7 1293.97,53.36 1295.25,53.02 1296.53,52.68 1297.82,52.34 1299.1,52.01 1300.38,51.68 1301.67,51.35 1302.95,51.02 1304.24,50.7 1305.52,50.38 1306.81,50.06 1308.1,49.74 1309.39,49.43 1310.68,49.12 1311.96,48.81 1313.25,48.5 1314.54,48.2 1315.84,47.9 1317.13,47.6 1318.42,47.3 1319.71,47 1321,46.71 1322.3,46.42 1323.59,46.13 1324.88,45.84 1326.18,45.56 1327.47,45.28 1328.77,45 1330.07,44.72 1331.36,44.45 1332.66,44.17 1333.96,43.9 1335.26,43.64 1336.56,43.37 1337.86,43.11 1339.16,42.84 1340.46,42.58 1341.76,42.33 1343.06,42.07 1344.36,41.82 1345.66,41.56 1346.96,41.31 1348.27,41.07 1349.57,40.82 1350.87,40.58 1352.18,40.34 1353.48,40.1 1354.79,39.86 1356.09,39.63 1357.4,39.39 1358.71,39.16 1360.01,38.93 1361.32,38.7 1362.63,38.48 1363.94,38.25 1365.24,38.03 1366.55,37.81 1367.86,37.59 1369.17,37.38 1370.48,37.16 1371.79,36.95 1373.1,36.74 1374.41,36.53 1375.73,36.32 1377.04,36.12 1378.35,35.91 1379.66,35.71 1380.98,35.51 1382.29,35.31 1383.6,35.12 1384.92,34.92 1386.23,34.73 1387.55,34.54 1388.86,34.35 1390.18,34.16 1391.49,33.97 1392.81,33.79 1394.12,33.6 1395.44,33.42 1396.76,33.24 1398.07,33.06 1399.39,32.89 1400.71,32.71 1402.03,32.54 1403.35,32.37 1404.66,32.2 1405.98,32.03 1407.3,31.86 1408.62,31.69 1409.94,31.53 1411.26,31.37 1412.58,31.2 1413.9,31.04 1415.22,30.89 1416.54,30.73 1417.87,30.57 1419.19,30.42 1420.51,30.27 1421.83,30.11 1423.15,29.96 1424.48,29.82 1425.8,29.67 1427.12,29.52 1428.44,29.38 1429.77,29.23 1431.09,29.09 1432.41,28.95 1433.74,28.81 1435.06,28.67 1436.39,28.53 1437.71,28.4 1439.04,28.26 1440.36,28.13 1441.69,28 1443.01,27.87 1444.34,27.74 1445.66,27.61 1446.99,27.48 1448.31,27.36 1449.64,27.23 1450.97,27.11 1452.29,26.98 1453.62,26.86 1454.94,26.74 1456.27,26.62 1457.6,26.5 1458.93,26.38 1460.25,26.27 1461.58,26.15 1462.91,26.04 1464.23,25.93 1465.56,25.81 1466.89,25.7 1468.22,25.59 1469.55,25.48 1470.87,25.37 1472.2,25.27 1473.53,25.16 1474.86,25.05 1476.19,24.95 1477.51,24.84 1478.84,24.74 1480.17,24.64 1481.5,24.54 1482.83,24.44 1484.16,24.34 1485.49,24.24 1486.82,24.14 1488.14,24.04 1489.47,23.95 1490.8,23.85 1492.13,23.76 1493.46,23.66 1494.79,23.57 1496.12,23.48 1497.45,23.38 1498.78,23.29 1500.1,23.2 1501.43,23.11 1502.76,23.02 1504.09,22.93 1505.42,22.85 1506.75,22.76 1508.08,22.67 1509.41,22.59 1510.74,22.5 1512.07,22.42 1513.4,22.33 1514.72,22.25 1516.05,22.16 1517.38,22.08 1518.71,22 1520.04,21.92 1521.37,21.84 1522.7,21.76 1524.03,21.68 1525.35,21.6 1526.68,21.52 1528.01,21.44 1529.34,21.36 1530.67,21.28 1532,21.2 1533.32,21.13 1534.65,21.05 1535.98,20.97 1537.31,20.9 1538.64,20.82 1539.96,20.75 1541.29,20.67 1542.62,20.6 1543.95,20.52 1545.27,20.45 1546.6,20.38 1547.93,20.3 1549.25,20.23 1550.58,20.16 1551.91,20.08 1553.23,20.01 1554.56,19.94 1555.89,19.87 1557.21,19.79 1558.54,19.72 1559.86,19.65 1561.19,19.58 1562.51,19.51 1563.84,19.44 1565.16,19.37 1566.49,19.29 1567.81,19.22 1569.14,19.15 1570.46,19.08 1571.79,19.01 1573.11,18.94 1574.43,18.87 1575.76,18.8 1577.08,18.73 1578.4,18.66 1579.72,18.59 1581.05,18.52 1582.37,18.45 1583.69,18.37 1585.01,18.3 1586.34,18.23 1587.66,18.16 1588.98,18.09 1590.3,18.02 1591.62,17.95 1592.94,17.88 1594.26,17.81 1595.58,17.73 1596.9,17.66 1598.22,17.59 1599.54,17.52 1600.86,17.45 1602.17,17.37 1603.49,17.3 1604.81,17.23 1606.13,17.15 1607.45,17.08 1608.76,17.01 1610.08,16.93 1611.4,16.86 1612.71,16.78" fill="none" stroke="#8a3b98" stroke-width="2.5" stroke-linejoin="round" stroke-linecap="round" stroke-dasharray="11 6.8 2 7.7" stroke-linecap="butt"/>
<polyline points="1048.2,522.5 1049.2,480 1050.1,440 1050.6,430 1051.4,385 1052.2,343.3 1053.3,301.7 1054.4,270 1055.3,238.9 1056.1,211.1 1057.2,183.3 1058.6,155.6 1060.6,127.8 1062.4,105 1062.9,99.3 1064.6,85.6 1066.3,75.3 1068,68.5 1069.7,61.6 1070.9,53 1072.3,47.9 1074,46.2 1075.7,41 1077.4,35.9 1079.5,30.7 1080.9,27.3 1081.7,22.2 1082.9,14.4 1084.3,12.7 1085.7,14.4 1086.5,18.7 1087.7,25.6 1089.1,34.2 1090,37.6 1091.2,39.3 1092.9,41 1093.7,47.9 1094.9,56.5 1096.3,63.3 1098,68.5 1099.4,77 1100.6,90.8 1101.5,101.1 1102.3,110 1104,142.4 1105.6,165 1107.5,200 1109.4,227.8 1111.1,255.6 1112.8,283.3 1114.2,311.1 1115.3,338.9 1116.2,365 1116.9,387.8 1118.1,429.4 1118.9,471.1 1119.7,522.5" fill="none" stroke="#1ea0da" stroke-width="2.6" stroke-linejoin="round" stroke-linecap="round" />
<rect x="976.8" y="4.0" width="636.5" height="518.5" fill="none" stroke="#2c2827" stroke-width="2.2"/>
<line x1="966" y1="12.7" x2="976.8" y2="12.7" stroke="#231f20" stroke-width="2.0" />
<line x1="966" y1="234.45" x2="976.8" y2="234.45" stroke="#231f20" stroke-width="2.0" />
<line x1="966" y1="456.2" x2="976.8" y2="456.2" stroke="#231f20" stroke-width="2.0" />
<line x1="971" y1="167.7" x2="976.8" y2="167.7" stroke="#231f20" stroke-width="2.0" />
<line x1="971" y1="128.65" x2="976.8" y2="128.65" stroke="#231f20" stroke-width="2.0" />
<line x1="971" y1="100.94" x2="976.8" y2="100.94" stroke="#231f20" stroke-width="2.0" />
<line x1="971" y1="79.45" x2="976.8" y2="79.45" stroke="#231f20" stroke-width="2.0" />
<line x1="971" y1="61.89" x2="976.8" y2="61.89" stroke="#231f20" stroke-width="2.0" />
<line x1="971" y1="47.05" x2="976.8" y2="47.05" stroke="#231f20" stroke-width="2.0" />
<line x1="971" y1="34.19" x2="976.8" y2="34.19" stroke="#231f20" stroke-width="2.0" />
<line x1="971" y1="22.85" x2="976.8" y2="22.85" stroke="#231f20" stroke-width="2.0" />
<line x1="971" y1="389.45" x2="976.8" y2="389.45" stroke="#231f20" stroke-width="2.0" />
<line x1="971" y1="350.4" x2="976.8" y2="350.4" stroke="#231f20" stroke-width="2.0" />
<line x1="971" y1="322.69" x2="976.8" y2="322.69" stroke="#231f20" stroke-width="2.0" />
<line x1="971" y1="301.2" x2="976.8" y2="301.2" stroke="#231f20" stroke-width="2.0" />
<line x1="971" y1="283.64" x2="976.8" y2="283.64" stroke="#231f20" stroke-width="2.0" />
<line x1="971" y1="268.8" x2="976.8" y2="268.8" stroke="#231f20" stroke-width="2.0" />
<line x1="971" y1="255.94" x2="976.8" y2="255.94" stroke="#231f20" stroke-width="2.0" />
<line x1="971" y1="244.6" x2="976.8" y2="244.6" stroke="#231f20" stroke-width="2.0" />
<line x1="971" y1="522.95" x2="976.8" y2="522.95" stroke="#231f20" stroke-width="2.0" />
<line x1="971" y1="505.39" x2="976.8" y2="505.39" stroke="#231f20" stroke-width="2.0" />
<line x1="971" y1="490.55" x2="976.8" y2="490.55" stroke="#231f20" stroke-width="2.0" />
<line x1="971" y1="477.69" x2="976.8" y2="477.69" stroke="#231f20" stroke-width="2.0" />
<line x1="971" y1="466.35" x2="976.8" y2="466.35" stroke="#231f20" stroke-width="2.0" />
<line x1="976.97" y1="522.5" x2="976.97" y2="528.3" stroke="#231f20" stroke-width="2.0" />
<line x1="1040.6" y1="522.5" x2="1040.6" y2="533" stroke="#231f20" stroke-width="2.0" />
<line x1="1104.23" y1="522.5" x2="1104.23" y2="528.3" stroke="#231f20" stroke-width="2.0" />
<line x1="1167.86" y1="522.5" x2="1167.86" y2="533" stroke="#231f20" stroke-width="2.0" />
<line x1="1231.49" y1="522.5" x2="1231.49" y2="528.3" stroke="#231f20" stroke-width="2.0" />
<line x1="1295.12" y1="522.5" x2="1295.12" y2="533" stroke="#231f20" stroke-width="2.0" />
<line x1="1358.75" y1="522.5" x2="1358.75" y2="528.3" stroke="#231f20" stroke-width="2.0" />
<line x1="1422.38" y1="522.5" x2="1422.38" y2="533" stroke="#231f20" stroke-width="2.0" />
<line x1="1486.01" y1="522.5" x2="1486.01" y2="528.3" stroke="#231f20" stroke-width="2.0" />
<line x1="1549.64" y1="522.5" x2="1549.64" y2="533" stroke="#231f20" stroke-width="2.0" />
<line x1="1613.27" y1="522.5" x2="1613.27" y2="528.3" stroke="#231f20" stroke-width="2.0" />
<text x="1015.36" y="563.1" font-size="30.54" textLength="50.96" lengthAdjust="spacingAndGlyphs" fill="#231f20" stroke="#231f20" stroke-width="0.35" font-weight="normal" >400</text>
<text x="1141.76" y="563.1" font-size="30.54" textLength="51.85" lengthAdjust="spacingAndGlyphs" fill="#231f20" stroke="#231f20" stroke-width="0.35" font-weight="normal" >600</text>
<text x="1269.26" y="563.1" font-size="30.54" textLength="51.61" lengthAdjust="spacingAndGlyphs" fill="#231f20" stroke="#231f20" stroke-width="0.35" font-weight="normal" >800</text>
<text x="1389.01" y="563.1" font-size="30.54" textLength="67.27" lengthAdjust="spacingAndGlyphs" fill="#231f20" stroke="#231f20" stroke-width="0.35" font-weight="normal" >1000</text>
<text x="1516.27" y="563.1" font-size="30.54" textLength="67.27" lengthAdjust="spacingAndGlyphs" fill="#231f20" stroke="#231f20" stroke-width="0.35" font-weight="normal" >1200</text>
<text x="943.79" y="20.6" font-size="25.6" textLength="11.19" lengthAdjust="spacingAndGlyphs" fill="#231f20" stroke="#231f20" stroke-width="0.35" font-weight="normal" >1</text>
<text x="919.61" y="243.1" font-size="28.53" textLength="34.47" lengthAdjust="spacingAndGlyphs" fill="#231f20" stroke="#231f20" stroke-width="0.35" font-weight="normal" >0.1</text>
<text x="903.46" y="464.1" font-size="28.53" textLength="50.61" lengthAdjust="spacingAndGlyphs" fill="#231f20" stroke="#231f20" stroke-width="0.35" font-weight="normal" >0.01</text>
<text x="1197.86" y="605.8" font-size="30.21" textLength="218.02" lengthAdjust="spacingAndGlyphs" fill="#231f20" stroke="#231f20" stroke-width="0.35" font-weight="normal" >Wavelength (nm)</text>
<text transform="translate(882.8,416.97) rotate(-90)" x="0" y="0" font-size="30.92" textLength="313.84" lengthAdjust="spacingAndGlyphs" fill="#231f20" stroke="#231f20" stroke-width="0.35">Normalized transmission</text>
<text x="855.75" y="44.7" font-size="48.94" textLength="34.81" lengthAdjust="spacingAndGlyphs" fill="#000" stroke="#000" stroke-width="0.35" font-weight="bold" >B</text>
<text x="1110.41" y="29.7" font-size="22.98" textLength="101.85" lengthAdjust="spacingAndGlyphs" fill="#8a3b98" stroke="#8a3b98" stroke-width="0.35" font-weight="normal" >Predicted</text>
<text x="1111.75" y="58.4" font-size="23.69" textLength="108.72" lengthAdjust="spacingAndGlyphs" fill="#8a3b98" stroke="#8a3b98" stroke-width="0.35" font-weight="normal" >step-index</text>
<text x="1111.4" y="86.3" font-size="23.69" textLength="76.08" lengthAdjust="spacingAndGlyphs" fill="#8a3b98" stroke="#8a3b98" stroke-width="0.35" font-weight="normal" >guiding</text>
<text transform="translate(1045.5,200.58) rotate(-90)" x="0" y="0" font-size="24.26" textLength="121.33" lengthAdjust="spacingAndGlyphs" fill="#1ea0da" stroke="#1ea0da" stroke-width="0.35">Empty fiber</text>
<text x="1162.78" y="269.5" font-size="22.7" textLength="118.87" lengthAdjust="spacingAndGlyphs" fill="#e3241b" stroke="#e3241b" stroke-width="0.35" font-weight="normal" >Water filled</text>
<text x="1161.51" y="298.6" font-size="24.11" textLength="91.26" lengthAdjust="spacingAndGlyphs" fill="#e3241b" stroke="#e3241b" stroke-width="0.35" font-weight="normal" >HC-PCF</text>
<text transform="translate(1422.4,300.12) rotate(-90)" x="0" y="0" font-size="25.67" textLength="243.14" lengthAdjust="spacingAndGlyphs" fill="#e3241b" stroke="#e3241b" stroke-width="0.35">Water absorption band</text>
<text transform="translate(1550.1,427.14) rotate(-90)" x="0" y="0" font-size="30.78" textLength="290.66" lengthAdjust="spacingAndGlyphs" fill="#e3241b" stroke="#e3241b" stroke-width="0.35">Water absorption band</text>
</svg>
</body></html>
